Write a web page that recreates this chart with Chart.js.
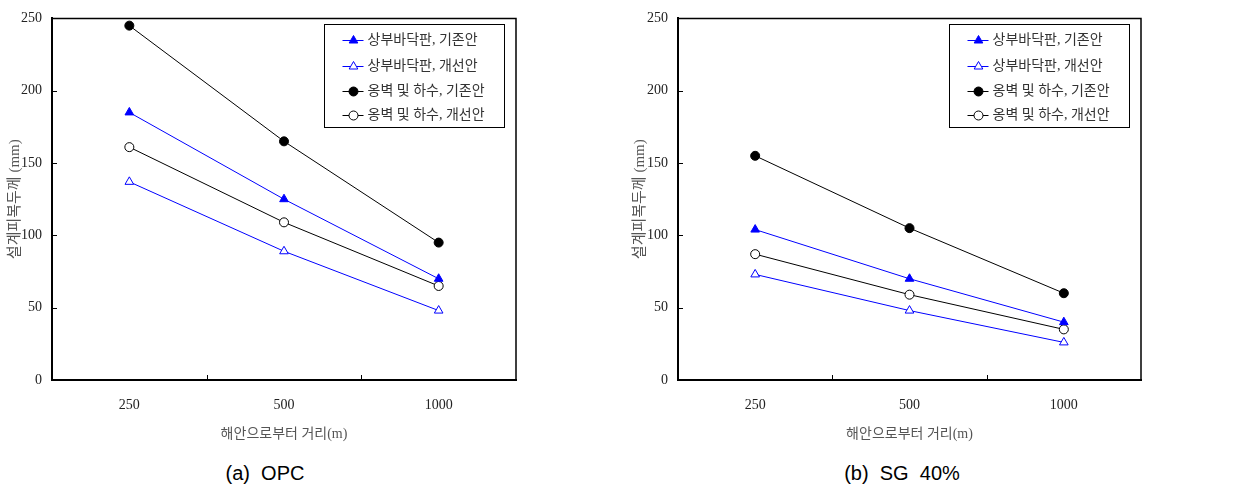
<!DOCTYPE html>
<html><head><meta charset="utf-8">
<script src="https://cdn.jsdelivr.net/npm/chart.js@4"></script>
<style>
body{margin:0;background:#fff;width:1239px;height:490px;position:relative;overflow:hidden}
.wrap{position:absolute;top:0;height:460px}
.cap{position:absolute;font-family:"Liberation Sans",Arial,sans-serif;font-size:20px;color:#000;white-space:pre;transform:translate(-50%,-50%)}
</style></head><body>
<div class="wrap" style="left:0;width:620px"><canvas id="c1"></canvas></div>
<div class="wrap" style="left:620px;width:619px"><canvas id="c2"></canvas></div>
<div class="cap" style="left:265px;top:473px">(a)  OPC</div>
<div class="cap" style="left:902px;top:473px">(b)  SG  40%</div>
<script>
const categories = ['250', '500', '1000'];
const seriesLabels = ['상부바닥판, 기존안', '상부바닥판, 개선안', '옹벽 및 하수, 기존안', '옹벽 및 하수, 개선안'];
const opcSlabExisting = [185, 125, 70];
const opcSlabImproved = [137, 89, 48];
const opcWallExisting = [245, 165, 95];
const opcWallImproved = [161, 109, 65];
const sgSlabExisting = [104, 70, 40];
const sgSlabImproved = [73, 48, 26];
const sgWallExisting = [155, 105, 60];
const sgWallImproved = [87, 59, 35];
const yMin = 0, yMax = 250, yStep = 50;
const xTitle = '해안으로부터 거리(m)';
const yTitle = '설계피복두께 (mm)';

const FONT = '"Liberation Serif", "Noto Sans CJK KR", serif';
const styles = [
  {color: '#0000ff', pointStyle: 'triangle', fill: '#0000ff', r: 5},
  {color: '#0000ff', pointStyle: 'triangle', fill: '#ffffff', r: 5},
  {color: '#000000', pointStyle: 'circle', fill: '#000000', r: 4.5},
  {color: '#000000', pointStyle: 'circle', fill: '#ffffff', r: 4.5}
];

function makeDatasets(arrs) {
  return arrs.map((d, i) => ({
    label: seriesLabels[i],
    data: d,
    borderColor: styles[i].color,
    borderWidth: 1,
    pointStyle: styles[i].pointStyle,
    pointRadius: styles[i].r,
    pointHoverRadius: styles[i].r,
    pointBackgroundColor: styles[i].fill,
    pointBorderColor: styles[i].color,
    pointBorderWidth: 1,
    tension: 0,
    fill: false
  }));
}

function drawMarker(ctx, st, x, y) {
  ctx.beginPath();
  if (st.pointStyle === 'circle') {
    ctx.arc(x, y, st.r, 0, Math.PI * 2);
  } else {
    const r = st.r;
    ctx.moveTo(x, y - r);
    ctx.lineTo(x + r * Math.cos(Math.PI / 6), y + r * 0.5);
    ctx.lineTo(x - r * Math.cos(Math.PI / 6), y + r * 0.5);
    ctx.closePath();
  }
  ctx.fillStyle = st.fill;
  ctx.fill();
  ctx.lineWidth = 1;
  ctx.strokeStyle = st.color;
  ctx.stroke();
}

const framePlugin = {
  id: 'frame',
  afterDraw(chart) {
    const {ctx, chartArea: a, scales: {x, y}} = chart;
    ctx.save();
    ctx.strokeStyle = '#000';
    ctx.lineWidth = 1.5;
    ctx.beginPath();
    ctx.moveTo(a.left, a.top); ctx.lineTo(a.right, a.top); ctx.lineTo(a.right, a.bottom);
    ctx.stroke();
    ctx.lineWidth = 1;
    ctx.beginPath();
    y.ticks.forEach(t => {
      const p = Math.round(y.getPixelForValue(t.value)) + 0.5;
      ctx.moveTo(a.left, p); ctx.lineTo(a.left + 5, p);
    });
    for (let i = 0; i < categories.length - 1; i++) {
      const p = Math.round((x.getPixelForValue(i) + x.getPixelForValue(i + 1)) / 2) + 0.5;
      ctx.moveTo(p, a.bottom); ctx.lineTo(p, a.bottom - 5);
    }
    ctx.stroke();
    // legend box
    const w = 180, h = 103;
    const bx = Math.round(a.right - 12 - w) + 0.5, by = Math.round(a.top + 6) + 0.5;
    ctx.fillStyle = '#fff';
    ctx.fillRect(bx, by, w, h);
    ctx.strokeStyle = '#000';
    ctx.lineWidth = 1;
    ctx.strokeRect(bx, by, w, h);
    const rows = [16, 42, 67, 91];
    chart.data.datasets.forEach((ds, i) => {
      const ry = by + rows[i];
      const st = styles[i];
      ctx.strokeStyle = st.color;
      ctx.lineWidth = 1;
      ctx.beginPath();
      ctx.moveTo(bx + 18, ry); ctx.lineTo(bx + 39, ry);
      ctx.stroke();
      drawMarker(ctx, st, bx + 29, ry);
      ctx.fillStyle = '#333';
      ctx.font = '14px ' + FONT;
      ctx.textBaseline = 'middle';
      ctx.textAlign = 'left';
      ctx.fillText(ds.label, bx + 43, ry);
    });
    ctx.restore();
  }
};

function makeChart(id, arrs, yWidth, padRight, yTitlePad) {
  return new Chart(document.getElementById(id), {
    type: 'line',
    data: {labels: categories, datasets: makeDatasets(arrs)},
    plugins: [framePlugin],
    options: {
      responsive: true,
      maintainAspectRatio: false,
      animation: false,
      events: [],
      layout: {padding: {top: 12, right: padRight, bottom: 10, left: 0}},
      plugins: {legend: {display: false}, tooltip: {enabled: false}},
      scales: {
        x: {
          type: 'category',
          offset: true,
          grid: {display: true, drawOnChartArea: false, drawTicks: false, offset: true},
          border: {display: true, color: '#000', width: 2},
          ticks: {font: {family: FONT, size: 14}, color: '#222', padding: 17},
          title: {display: true, text: xTitle, font: {family: FONT, size: 14}, color: '#555', padding: {top: 0, bottom: 7}},
          afterFit(scale) { scale.height = 70; }
        },
        y: {
          min: yMin, max: yMax,
          grid: {display: true, drawOnChartArea: false, drawTicks: false},
          border: {display: true, color: '#000', width: 2},
          ticks: {stepSize: yStep, font: {family: FONT, size: 14}, color: '#222', padding: 10},
          title: {display: true, text: yTitle, font: {family: FONT, size: 15}, color: '#555', padding: {top: yTitlePad, bottom: 0}},
          afterFit(scale) { scale.width = yWidth; }
        }
      }
    }
  });
}

makeChart('c1', [opcSlabExisting, opcSlabImproved, opcWallExisting, opcWallImproved], 52, 104, 6);
makeChart('c2', [sgSlabExisting, sgSlabImproved, sgWallExisting, sgWallImproved], 58, 98, 11);
</script>
</body></html>
